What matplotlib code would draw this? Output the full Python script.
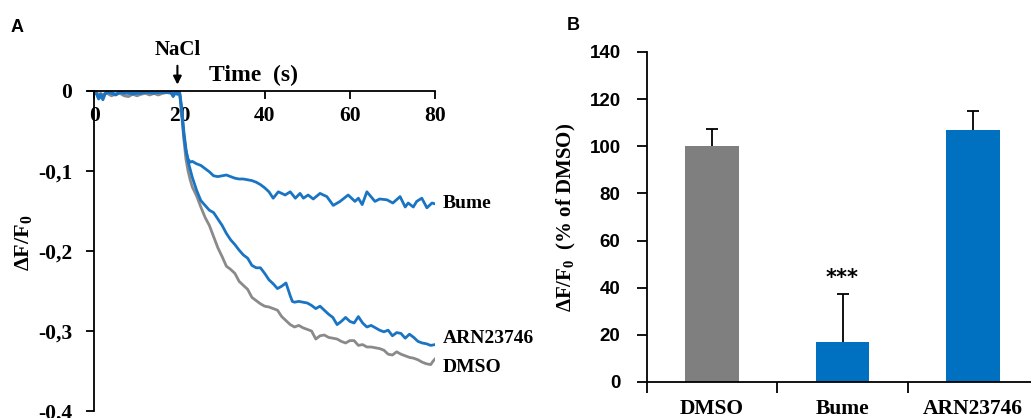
import matplotlib
matplotlib.use("Agg")
import matplotlib.pyplot as plt

plt.rcParams["mathtext.fontset"] = "custom"
plt.rcParams["mathtext.rm"] = "Liberation Serif:bold"
plt.rcParams["mathtext.bf"] = "Liberation Serif:bold"
plt.rcParams["mathtext.it"] = "Liberation Serif:bold"

# ---- panel A: traces (time in s, dF/F0) ----
t_base = [0, 0.5, 1, 1.5, 2, 2.5, 3, 4, 5, 6, 7, 8, 9, 10, 11, 12, 13, 14, 15, 16, 17, 18, 18.5, 19, 19.5, 20]
bume_base = [0, -0.004, -0.010, -0.006, -0.011, -0.004, -0.002, -0.003, -0.005, -0.002, -0.003, -0.002, -0.004,
             -0.002, -0.003, -0.001, -0.002, -0.003, -0.001, -0.002, -0.001, -0.002, -0.007, -0.002, -0.004, -0.001]
arn_base = [0, -0.003, -0.008, -0.004, -0.009, -0.003, -0.002, -0.002, -0.004, -0.001, -0.002, -0.003, -0.002,
            -0.003, -0.002, -0.002, -0.001, -0.002, -0.002, -0.001, -0.002, -0.001, -0.005, -0.001, -0.003, -0.001]
dmso_base = [0, -0.002, -0.004, -0.003, -0.005, -0.003, -0.003, -0.006, -0.004, -0.003, -0.006, -0.007, -0.004,
             -0.006, -0.004, -0.003, -0.005, -0.003, -0.005, -0.003, -0.002, -0.003, -0.006, -0.003, -0.004, -0.002]

t_bume = [20.5, 21, 21.5, 22, 22.5, 23, 24, 25, 26, 27, 28, 29, 30, 31, 32, 33, 34, 35, 36, 37, 38, 39, 40,
          41, 42, 43.2, 44, 44.8, 46, 47.2, 48.3, 49.1, 50.2, 51.4, 53, 54.6, 56.1, 57.7, 59.6, 61.2, 62,
          62.9, 64, 65.9, 67, 68.7, 70.1, 71.8, 73, 73.7, 74.9, 75.7, 76.9, 78.1, 79.3, 80]
v_bume = [-0.025, -0.055, -0.075, -0.085, -0.089, -0.088, -0.091, -0.093, -0.097, -0.101, -0.106, -0.107,
          -0.106, -0.105, -0.107, -0.109, -0.110, -0.110, -0.111, -0.112, -0.114, -0.117, -0.121,
          -0.126, -0.134, -0.126, -0.128, -0.130, -0.126, -0.134, -0.128, -0.134, -0.130, -0.135, -0.128,
          -0.132, -0.143, -0.138, -0.130, -0.138, -0.134, -0.142, -0.126, -0.138, -0.135, -0.136, -0.140,
          -0.132, -0.145, -0.140, -0.145, -0.138, -0.134, -0.146, -0.140, -0.141]

t_arn = [20.5, 21, 21.5, 22, 22.5, 23, 24, 25, 26, 27, 28, 29, 30, 31, 32, 33, 34, 35, 36, 37, 38, 39, 40,
         41, 42, 43, 44, 45, 46, 46.5, 47, 48, 49, 50, 51, 52, 53, 54, 55, 56, 57, 58, 59, 60, 61, 62, 63,
         64, 65, 66, 67, 68, 69, 70, 71, 72, 73, 74, 75, 76, 77, 78, 79, 80]
v_arn = [-0.02, -0.05, -0.072, -0.088, -0.098, -0.108, -0.124, -0.137, -0.143, -0.149, -0.152, -0.160,
         -0.168, -0.178, -0.186, -0.192, -0.199, -0.205, -0.209, -0.218, -0.221, -0.221, -0.228, -0.236,
         -0.241, -0.247, -0.244, -0.240, -0.256, -0.263, -0.264, -0.263, -0.264, -0.265, -0.268, -0.272,
         -0.269, -0.274, -0.279, -0.283, -0.292, -0.288, -0.283, -0.288, -0.290, -0.282, -0.290, -0.295,
         -0.293, -0.296, -0.299, -0.301, -0.299, -0.306, -0.302, -0.303, -0.309, -0.304, -0.308, -0.313,
         -0.315, -0.316, -0.318, -0.317]

t_dmso = [20.5, 21, 21.5, 22, 22.5, 23, 24, 25, 26, 27, 28, 29, 30, 31, 32, 33, 34, 35, 36, 37, 38, 39, 40,
          41, 42, 43, 44, 45, 46, 47, 48, 49, 50, 51, 52, 53, 54, 55, 56, 57, 58, 59, 60, 61, 62, 63, 64,
          65, 66, 67, 68, 69, 70, 71, 72, 73, 74, 75, 76, 77, 78, 79, 79.5, 80]
v_dmso = [-0.03, -0.06, -0.085, -0.100, -0.111, -0.120, -0.131, -0.145, -0.158, -0.168, -0.182, -0.196,
          -0.207, -0.219, -0.223, -0.228, -0.238, -0.243, -0.248, -0.258, -0.262, -0.266, -0.269, -0.270,
          -0.272, -0.274, -0.282, -0.287, -0.292, -0.295, -0.293, -0.296, -0.298, -0.300, -0.310, -0.306,
          -0.305, -0.308, -0.309, -0.310, -0.313, -0.315, -0.312, -0.312, -0.318, -0.317, -0.320, -0.320,
          -0.321, -0.322, -0.324, -0.329, -0.330, -0.326, -0.329, -0.331, -0.333, -0.334, -0.336, -0.339,
          -0.341, -0.342, -0.338, -0.335]

xticks_a = [0, 20, 40, 60, 80]
yticks_a = [0, -0.1, -0.2, -0.3, -0.4]
ylabels_a = ["0", "-0,1", "-0,2", "-0,3", "-0,4"]

# ---- panel B: bars ----
groups = ["DMSO", "Bume", "ARN23746"]
pct = [100, 17, 107]
err = [7.3, 20.3, 8]
yticks_b = [0, 20, 40, 60, 80, 100, 120, 140]

BLUE = "#1a74c4"
GREY = "#8a8a8a"
serif = "Liberation Serif"
sans = "Liberation Sans"

fig = plt.figure(figsize=(10.31, 4.18), dpi=100)

# panel A
ax = fig.add_axes([88/1031, 1-411/418, 347/1031, 320/418])
ax.plot(t_base + t_dmso, dmso_base + v_dmso, color=GREY, lw=2.0)
ax.plot(t_base + t_arn, arn_base + v_arn, color=BLUE, lw=2.0)
ax.plot(t_base + t_bume, bume_base + v_bume, color=BLUE, lw=2.0)
ax.set_xlim(-1.5, 80)
ax.set_ylim(-0.4, 0)
ax.spines["top"].set_visible(False)
ax.spines["right"].set_visible(False)
ax.spines["bottom"].set_position(("data", 0))
ax.spines["left"].set_position(("data", 0))
for s in ["bottom", "left"]:
    ax.spines[s].set_linewidth(1.3)
ax.set_xticks(xticks_a)
ax.set_xticklabels([str(v) for v in xticks_a], fontfamily=serif, fontweight="bold", fontsize=15.5)
ax.set_yticks(yticks_a)
ax.set_yticklabels(ylabels_a, fontfamily=serif, fontweight="bold", fontsize=15.5)
ax.tick_params(axis="x", direction="out", length=6, width=1.3, pad=5)
ax.tick_params(axis="y", direction="out", length=6, width=1.3, pad=10)
ax.text(37.3, 0.02, "Time  (s)", fontfamily=serif, fontweight="bold", fontsize=17,
        ha="center", va="center", clip_on=False)
ax.annotate("NaCl", xy=(19.5, 0.008), xytext=(19.5, 0.051), fontfamily=serif, fontweight="bold",
            fontsize=15, ha="center", va="center", annotation_clip=False,
            arrowprops=dict(arrowstyle="-|>", color="k", lw=1.5, shrinkA=2, shrinkB=0,
                            mutation_scale=12))
ax.text(81.9, -0.140, "Bume", fontfamily=serif, fontweight="bold", fontsize=14, va="center", clip_on=False)
ax.text(81.9, -0.309, "ARN23746", fontfamily=serif, fontweight="bold", fontsize=14, va="center", clip_on=False)
ax.text(81.9, -0.346, "DMSO", fontfamily=serif, fontweight="bold", fontsize=14, va="center", clip_on=False)
fig.text(24/1031, 1-243/418, r"$\Delta$F/F$_0$", rotation=90, fontfamily=serif,
         fontweight="bold", fontsize=16, ha="center", va="center")
fig.text(11/1031, 1-27/418, "A", fontfamily=sans, fontweight="bold", fontsize=13, va="center")

# panel B
bx = fig.add_axes([647/1031, 1-382/418, 391/1031, 330/418])
xpos = list(range(len(groups)))
bx.bar(xpos, pct, width=0.41, color=["#7f7f7f", "#0070c0", "#0070c0"])
tops = [p + e for p, e in zip(pct, err)]
bx.vlines(xpos, pct, tops, color="k", lw=1.3)
bx.plot(xpos, tops, ls="none", marker="_", ms=9, mew=1.3, color="k")
bx.text(1, 41.6, "***", fontfamily="DejaVu Sans", fontweight="bold", fontsize=15, ha="center",
        va="baseline")
bx.set_xlim(-0.5, 2.5)
bx.set_ylim(0, 140)
bx.spines["top"].set_visible(False)
bx.spines["right"].set_visible(False)
for s in ["bottom", "left"]:
    bx.spines[s].set_linewidth(1.3)
bx.set_yticks(yticks_b)
bx.set_yticklabels([str(v) for v in yticks_b], fontfamily=sans, fontweight="bold", fontsize=13.5)
bx.tick_params(axis="y", direction="out", length=7, width=1.3, pad=12)
bx.set_xticks([-0.5, 0.5, 1.5, 2.5])
bx.set_xticklabels([])
bx.tick_params(axis="x", which="major", direction="out", length=8, width=1.3)
bx.set_xticks(xpos, minor=True)
bx.set_xticklabels(groups, minor=True, fontfamily=serif, fontweight="bold", fontsize=15.5)
bx.tick_params(axis="x", which="minor", length=0, pad=12)
bx.set_ylabel(r"$\Delta$F/F$_0$  (% of DMSO)", fontfamily=serif, fontweight="bold",
              fontsize=15, labelpad=8)
fig.text(567/1031, 1-25/418, "B", fontfamily=sans, fontweight="bold", fontsize=13, va="center")

fig.savefig("out.png", dpi=100)
